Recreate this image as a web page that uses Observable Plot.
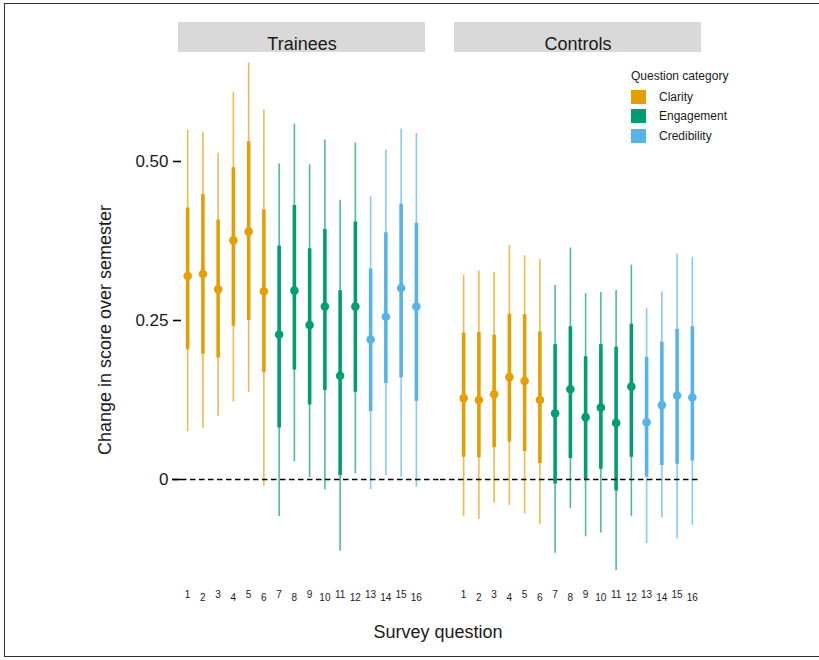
<!DOCTYPE html>
<html>
<head>
<meta charset="utf-8">
<script src="https://cdn.jsdelivr.net/npm/d3@7"></script>
<script src="https://cdn.jsdelivr.net/npm/@observablehq/plot@0.6"></script>
<style>
  html, body { margin: 0; padding: 0; background: #fff; overflow: hidden; }
  #wrap { position: relative; width: 819px; height: 660px; overflow: hidden;
          font-family: "Liberation Sans", Arial, Helvetica, sans-serif; color: #1a1a1a; }
  #border { position: absolute; left: 4px; top: 3px; width: 830px; height: 654px;
            border: 1.5px solid #333; box-sizing: border-box; }
  #chart { position: absolute; left: 0; top: 0; }
  .ytitle { position: absolute; left: 105px; top: 330px; transform: translate(-50%, -50%) rotate(-90deg);
            font-size: 18px; white-space: nowrap; }
  .xtitle { position: absolute; left: 438px; top: 632px; transform: translate(-50%, -50%);
            font-size: 18px; white-space: nowrap; }
  #legend { position: absolute; left: 631px; top: 68px; font-size: 12px; }
  #legend .title { height: 16px; line-height: 16px; margin-bottom: 3px; }
  #legend .row { display: flex; align-items: center; height: 19.5px; }
  #legend .sw { width: 15px; height: 14px; margin-right: 13px; }
</style>
</head>
<body>
<div id="wrap">
  <div id="border"></div>
  <div id="chart"></div>
  <div class="ytitle">Change in score over semester</div>
  <div class="xtitle">Survey question</div>
  <div id="legend"></div>
</div>
<script>
// ---- data ----
const panels = ["Trainees", "Controls"];
const questions = [1,2,3,4,5,6,7,8,9,10,11,12,13,14,15,16];
const categoryNames = ["Clarity", "Engagement", "Credibility"];
const questionCategory = ["Clarity","Clarity","Clarity","Clarity","Clarity","Clarity",
  "Engagement","Engagement","Engagement","Engagement","Engagement","Engagement",
  "Credibility","Credibility","Credibility","Credibility"];
const categoryColors = ["#E69F00", "#009E73", "#56B4E9"];

const traineesEst  = [0.320,0.323,0.299,0.376,0.390,0.296,0.228,0.297,0.243,0.272,0.163,0.272,0.220,0.256,0.301,0.272];
const traineesHi95 = [0.549,0.546,0.513,0.608,0.655,0.581,0.496,0.559,0.495,0.534,0.439,0.529,0.445,0.518,0.551,0.544];
const traineesHi50 = [0.427,0.448,0.408,0.490,0.531,0.424,0.367,0.431,0.363,0.393,0.297,0.405,0.331,0.388,0.433,0.403];
const traineesLo50 = [0.204,0.197,0.191,0.241,0.250,0.168,0.081,0.172,0.117,0.140,0.006,0.137,0.107,0.151,0.160,0.123];
const traineesLo95 = [0.075,0.080,0.099,0.122,0.137,-0.011,-0.058,0.028,0.003,-0.016,-0.113,0.009,-0.016,0.006,0.004,-0.012];

const controlsEst  = [0.128,0.125,0.134,0.161,0.155,0.125,0.104,0.142,0.098,0.113,0.089,0.146,0.090,0.117,0.132,0.129];
const controlsHi95 = [0.321,0.328,0.326,0.368,0.352,0.346,0.305,0.364,0.292,0.294,0.297,0.337,0.269,0.295,0.354,0.349];
const controlsHi50 = [0.230,0.231,0.227,0.260,0.259,0.232,0.212,0.240,0.193,0.212,0.208,0.244,0.192,0.216,0.236,0.240];
const controlsLo50 = [0.035,0.034,0.050,0.059,0.044,0.025,-0.007,0.033,0.000,0.016,-0.018,0.035,0.004,0.022,0.024,0.029];
const controlsLo95 = [-0.058,-0.063,-0.037,-0.041,-0.054,-0.071,-0.116,-0.046,-0.090,-0.084,-0.143,-0.058,-0.101,-0.060,-0.093,-0.072];

const yTicks = [0, 0.25, 0.5];

// ---- table ----
function rows(panel, est, lo95, hi95, lo50, hi50) {
  return questions.map((q, i) => ({panel, q, cat: questionCategory[i],
    est: est[i], lo95: lo95[i], hi95: hi95[i], lo50: lo50[i], hi50: hi50[i]}));
}
const data = [
  ...rows("Trainees", traineesEst, traineesLo95, traineesHi95, traineesLo50, traineesHi50),
  ...rows("Controls", controlsEst, controlsLo95, controlsHi95, controlsLo50, controlsHi50)
];

// ---- layout ----
const W = 819, H = 660;
const mTop = 22, mBottom = 75, mLeft = 178, mRight = 118;
const zeroPx = 479, pxPerUnit = 636;
const yMin = (zeroPx - (H - mBottom)) / pxPerUnit;
const yMax = (zeroPx - mTop) / pxPerUnit;
const stripH = 30;
const stripBottom = yMax - stripH / pxPerUnit;

const odd = questions.filter(q => q % 2 === 1);
const even = questions.filter(q => q % 2 === 0);

const chart = Plot.plot({
  width: W, height: H,
  marginTop: mTop, marginBottom: mBottom, marginLeft: mLeft, marginRight: mRight,
  style: {fontFamily: '"Liberation Sans", Arial, Helvetica, sans-serif', color: "#1a1a1a", background: "transparent"},
  fx: {domain: panels, paddingInner: 0.105, paddingOuter: 0, round: false, axis: null},
  x: {type: "point", domain: questions, padding: 0.6, round: false},
  y: {domain: [yMin, yMax]},
  color: {domain: categoryNames, range: categoryColors},
  marks: [
    Plot.rect(panels, {fx: d => d, y1: stripBottom, y2: yMax, fill: "#d9d9d9"}),
    Plot.text(panels, {fx: d => d, text: d => d, frameAnchor: "top", dy: 15, fontSize: 18, fill: "#1a1a1a"}),
    Plot.ruleX(data, {fx: "panel", x: "q", y1: "lo95", y2: "hi95", stroke: "cat", strokeWidth: 1.6, strokeOpacity: 0.7}),
    Plot.ruleX(data, {fx: "panel", x: "q", y1: "lo50", y2: "hi50", stroke: "cat", strokeWidth: 3.6}),
    Plot.dot(data, {fx: "panel", x: "q", y: "est", fill: "cat", r: 4.3}),
    Plot.ruleY([{p: "Trainees", y: 0}], {fx: "p", y: "y", stroke: "#000", strokeWidth: 1.6, strokeDasharray: "5.5,3.5", insetLeft: -6, insetRight: -15}),
    Plot.ruleY([{p: "Controls", y: 0}], {fx: "p", y: "y", stroke: "#000", strokeWidth: 1.6, strokeDasharray: "5.5,3.5", insetLeft: -14, insetRight: 0}),
    Plot.axisY({ticks: yTicks, tickFormat: d => d === 0 ? "0" : d.toFixed(2), tickSize: 8, tickPadding: 5, dx: 3,
                fontSize: 17, strokeWidth: 1.6, stroke: "#000", label: null}),
    Plot.axisX({ticks: odd, tickSize: 0, tickPadding: 5, fontSize: 10, label: null}),
    Plot.axisX({ticks: even, tickSize: 0, tickPadding: 8, fontSize: 10, label: null})
  ]
});
document.getElementById("chart").appendChild(chart);

// ---- legend ----
const colorScale = chart.scale("color");
const legend = document.getElementById("legend");
const t = document.createElement("div");
t.className = "title";
t.textContent = "Question category";
legend.appendChild(t);
colorScale.domain.forEach((name, i) => {
  const row = document.createElement("div");
  row.className = "row";
  const sw = document.createElement("div");
  sw.className = "sw";
  sw.style.background = colorScale.range[i];
  const lab = document.createElement("span");
  lab.textContent = name;
  row.appendChild(sw);
  row.appendChild(lab);
  legend.appendChild(row);
});
</script>
</body>
</html>
